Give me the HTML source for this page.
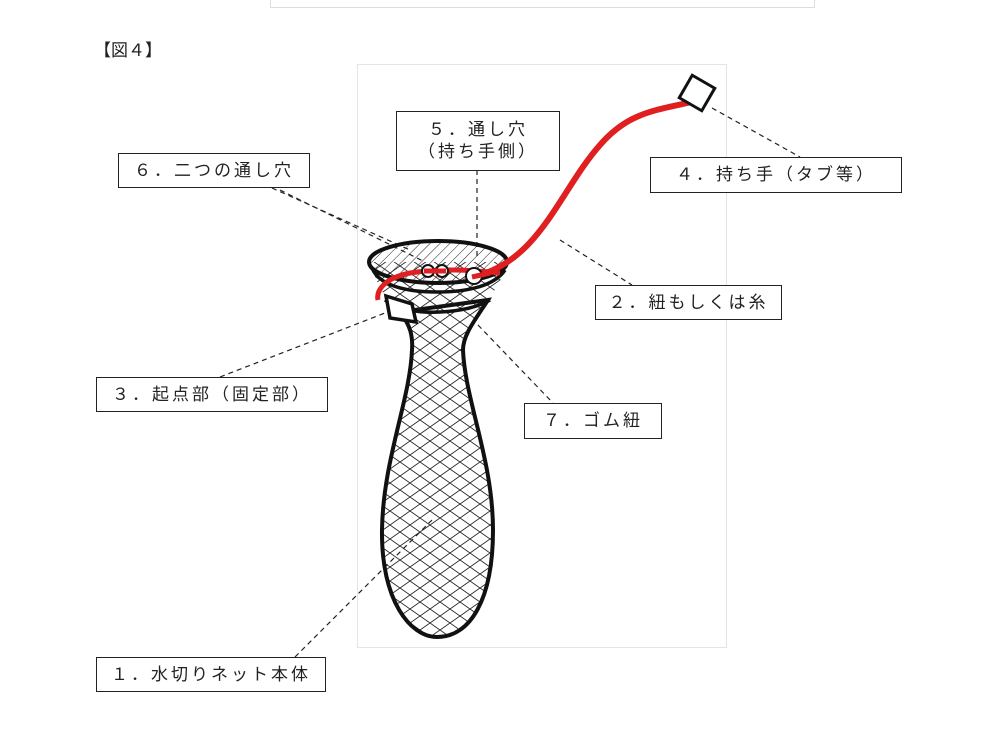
<!DOCTYPE html>
<html><head><meta charset="utf-8"><style>
body{margin:0;background:#fff;}
.wrap{position:relative;width:1000px;height:750px;overflow:hidden;font-family:"Liberation Sans","Noto Sans CJK JP",sans-serif;}
.lb{position:absolute;border:1.5px solid #222;background:#fff;box-sizing:border-box;font-size:17px;letter-spacing:3px;color:#222;text-align:center;line-height:22px;display:flex;align-items:center;justify-content:center;flex-direction:column;}
</style></head><body><div class="wrap">
<div style="position:absolute;left:270px;top:-2px;width:543px;height:8px;border:1px solid #ddd;"></div>
<div style="position:absolute;left:94px;top:36px;font-size:17px;color:#222;">【図４】</div>
<div style="position:absolute;left:357px;top:64px;width:368px;height:582px;border:1px solid #e4e4e4;"></div>
<svg width="1000" height="750" style="position:absolute;left:0;top:0">
<defs>
<pattern id="x" width="20" height="14" patternUnits="userSpaceOnUse">
<path d="M0,0 L20,14 M0,14 L20,0" stroke="#222" stroke-width="0.9" fill="none"/>
</pattern>
<pattern id="h" width="7" height="7" patternUnits="userSpaceOnUse" patternTransform="rotate(45)">
<line x1="0" y1="0" x2="0" y2="7" stroke="#222" stroke-width="1"/>
</pattern>
</defs>
<g stroke="#222" stroke-width="1.2" stroke-dasharray="5,4" fill="none">
<line x1="272" y1="188" x2="410" y2="250"/>
<line x1="280" y1="190" x2="425" y2="262"/>
<line x1="477" y1="170" x2="477" y2="258"/>
<line x1="712" y1="108" x2="800" y2="157"/>
<line x1="560" y1="240" x2="632" y2="285"/>
<line x1="220" y1="377" x2="385" y2="313"/>
<line x1="478" y1="325" x2="553" y2="403"/>
<line x1="295" y1="657" x2="432" y2="520"/>
</g>
<path d="M400,312 C410,325 413,335 412,350 C410,400 383,460 382,530 C381,600 410,637 437,637 C470,637 493,600 493,530 C493,460 465,400 463,350 C463,335 475,320 488,300 Z" fill="url(#x)" stroke="#111" stroke-width="4"/>
<path d="M370,262 C378,290 390,305 400,312 L488,300 C495,290 502,280 507,262 Z" fill="url(#x)" stroke="none"/>
<ellipse cx="438" cy="262" rx="69" ry="21" fill="url(#h)" stroke="#111" stroke-width="4"/>
<path d="M372,268 C378,283 400,292 437,292 C470,292 495,285 505,270" fill="none" stroke="#111" stroke-width="3.5"/>
<path d="M385,300 C398,310 420,313 440,312 C460,311 478,307 490,300" fill="none" stroke="#111" stroke-width="3.5"/>
<path d="M378,300 C376,290 385,278 410,273 C440,268 470,270 500,273" fill="none" stroke="#e02020" stroke-width="5"/>
<path d="M476,276 C540,260 560,190 600,145 C630,110 660,110 700,100" fill="none" stroke="#e02020" stroke-width="6"/>
<circle cx="428" cy="271" r="6" fill="#fff" stroke="#111" stroke-width="2"/>
<circle cx="442" cy="271" r="6" fill="#fff" stroke="#111" stroke-width="2"/>
<line x1="424" y1="271" x2="446" y2="271" stroke="#e02020" stroke-width="5"/>
<circle cx="474" cy="276" r="8" fill="#fff" stroke="#111" stroke-width="2"/>
<line x1="472" y1="277" x2="490" y2="273" stroke="#e02020" stroke-width="5"/>
<path d="M386,296 L412,304 L416,322 L390,318 Z" fill="#fff" stroke="#111" stroke-width="3.5"/>
<rect x="684" y="80" width="26" height="26" transform="rotate(30 697 93)" fill="#fff" stroke="#111" stroke-width="3"/>
</svg>
<div class="lb" style="left:118px;top:153px;width:192px;height:35px;">６．二つの通し穴</div>
<div class="lb" style="left:396px;top:111px;width:164px;height:60px;">５．通し穴<br>（持ち手側）</div>
<div class="lb" style="left:650px;top:157px;width:252px;height:36px;">４．持ち手（タブ等）</div>
<div class="lb" style="left:595px;top:285px;width:187px;height:35px;">２．紐もしくは糸</div>
<div class="lb" style="left:96px;top:377px;width:232px;height:35px;">３．起点部（固定部）</div>
<div class="lb" style="left:524px;top:403px;width:138px;height:36px;">７．ゴム紐</div>
<div class="lb" style="left:96px;top:657px;width:230px;height:35px;">１．水切りネット本体</div>
</div></body></html>
